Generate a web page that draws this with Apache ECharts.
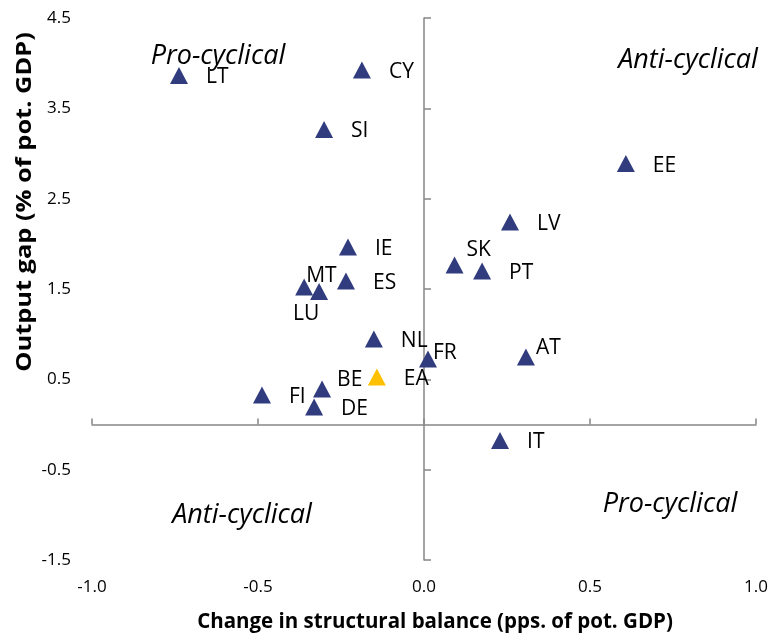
<!DOCTYPE html>
<html><head><meta charset="utf-8">
<script src="https://cdn.jsdelivr.net/npm/echarts@6/dist/echarts.min.js"></script>
<style>html,body{margin:0;padding:0;background:#fff}#c{width:773px;height:641px}</style>
</head><body><div id="c"></div>
<script>
// ---- data ----
const countries = ['LT','CY','SI','EE','LV','IE','SK','PT','ES','MT','LU','NL','FR','AT','BE','FI','DE','IT'];
const changeStructuralBalance = [-0.738,-0.187,-0.301,0.608,0.259,-0.229,0.092,0.175,-0.235,-0.361,-0.316,-0.151,0.012,0.307,-0.307,-0.488,-0.331,0.229];
const outputGap = [3.864,3.925,3.266,2.889,2.242,1.965,1.766,1.699,1.589,1.522,1.472,0.947,0.725,0.747,0.393,0.327,0.194,-0.177];
const euroAreaName = ['EA'];
const euroAreaChange = [-0.142];
const euroAreaGap = [0.526];
const xTickLabels = ['-1.0','-0.5','0.0','0.5','1.0'];
const yTickLabels = ['-1.5','-0.5','0.5','1.5','2.5','3.5','4.5'];
const xTitle = 'Change in structural balance (pps. of pot. GDP)';
const yTitle = 'Output gap (% of pot. GDP)';
const quadrantTexts = ['Pro-cyclical','Anti-cyclical','Anti-cyclical','Pro-cyclical'];

// ---- styling ----
const FONT = '"Open Sans", "Noto Sans", sans-serif';
const AXIS_COLOR = '#868686';
const labelOffsets = {SK:[-15,-15], FR:[-22,-6], AT:[-17,-9], MT:[-25,-11], BE:[-12,-9], LU:[-53,22]};
function mk(names, xs, ys) {
  return names.map((n, i) => ({
    name: n,
    value: [xs[i], ys[i]],
    label: { offset: labelOffsets[n] || [0, 2] }
  }));
}
const labelStyle = { show: true, position: 'right', distance: 18, formatter: p => p.name,
  color: '#000', fontSize: 21, fontFamily: FONT };

const chart = echarts.init(document.getElementById('c'), null, {renderer: 'canvas'});
const grid = { left: 92, right: 17, top: 18, bottom: 81 };
chart.setOption({
  animation: false,
  grid: grid,
  xAxis: [
    { type: 'value', min: -1, max: 1, interval: 0.5, position: 'bottom',
      axisLine: { show: false, onZero: false }, axisTick: { show: false }, splitLine: { show: false },
      axisLabel: { margin: 19, color: '#000', fontSize: 17, fontFamily: FONT,
        formatter: (v) => xTickLabels[Math.round((v + 1) / 0.5)] } },
    { type: 'value', min: -1, max: 1, interval: 0.5, position: 'bottom',
      axisLine: { show: true, onZero: true, lineStyle: { color: AXIS_COLOR, width: 1.5 } },
      axisTick: { show: true, inside: true, length: 6, lineStyle: { color: AXIS_COLOR, width: 1.5 } },
      axisLabel: { show: false }, splitLine: { show: false } }
  ],
  yAxis: [
    { type: 'value', min: -1.5, max: 4.5, interval: 1, position: 'left',
      axisLine: { show: false, onZero: false }, axisTick: { show: false }, splitLine: { show: false },
      axisLabel: { margin: 21, color: '#000', fontSize: 17, fontFamily: FONT,
        formatter: (v) => yTickLabels[Math.round(v + 1.5)] } },
    { type: 'value', min: -1.5, max: 4.5, interval: 1, position: 'left',
      axisLine: { show: true, onZero: true, lineStyle: { color: AXIS_COLOR, width: 1.5 } },
      axisTick: { show: true, inside: true, length: 7, lineStyle: { color: AXIS_COLOR, width: 1.5 } },
      axisLabel: { show: false }, splitLine: { show: false } }
  ],
  series: [
    { type: 'scatter', xAxisIndex: 0, yAxisIndex: 0, symbol: 'triangle', symbolSize: [18, 17],
      itemStyle: { color: '#313c7e', opacity: 1 }, label: labelStyle,
      data: mk(countries, changeStructuralBalance, outputGap) },
    { type: 'scatter', xAxisIndex: 0, yAxisIndex: 0, symbol: 'triangle', symbolSize: [18, 17],
      itemStyle: { color: '#ffc000', opacity: 1 }, label: labelStyle,
      data: mk(euroAreaName, euroAreaChange, euroAreaGap) }
  ],
  graphic: [
    { type: 'text', x: 435, y: 622, style: { text: xTitle, textAlign: 'center', textVerticalAlign: 'middle',
        fill: '#000', font: 'bold 20.5px ' + FONT } },
    { type: 'text', x: 25, y: 202, rotation: Math.PI / 2, scaleX: 1.24, style: { text: yTitle, textAlign: 'center', textVerticalAlign: 'middle',
        fill: '#000', font: 'bold 20.5px ' + FONT } },
    { type: 'text', x: 218, y: 56, style: { text: quadrantTexts[0], textAlign: 'center', textVerticalAlign: 'middle',
        fill: '#000', font: 'italic 27px ' + FONT } },
    { type: 'text', x: 688, y: 60, style: { text: quadrantTexts[1], textAlign: 'center', textVerticalAlign: 'middle',
        fill: '#000', font: 'italic 27px ' + FONT } },
    { type: 'text', x: 242, y: 515, style: { text: quadrantTexts[2], textAlign: 'center', textVerticalAlign: 'middle',
        fill: '#000', font: 'italic 27px ' + FONT } },
    { type: 'text', x: 670, y: 504, style: { text: quadrantTexts[3], textAlign: 'center', textVerticalAlign: 'middle',
        fill: '#000', font: 'italic 27px ' + FONT } }
  ]
});
</script></body></html>
